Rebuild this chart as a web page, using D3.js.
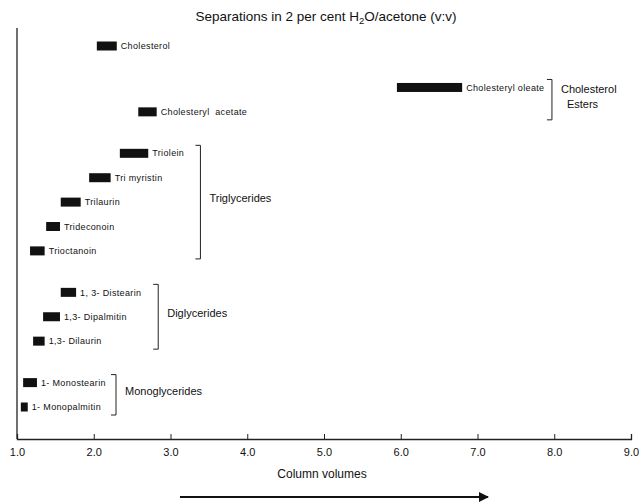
<!DOCTYPE html>
<head>
  <meta charset="utf-8">
  <script src="https://d3js.org/d3.v7.min.js"></script>
  <style>
    body { margin:0; background:#fff; }
    text { font-family: "Liberation Sans", Arial, sans-serif; fill:#111; }
  </style>
</head>
<body>
<div id="chart"></div>
<script>
  var width = 639, height = 504;

  // compounds, top to bottom
  var compounds = ["Cholesterol", "Cholesteryl oleate", "Cholesteryl  acetate",
    "Triolein", "Tri myristin", "Trilaurin", "Trideconoin", "Trioctanoin",
    "1, 3- Distearin", "1,3- Dipalmitin", "1,3- Dilaurin",
    "1- Monostearin", "1- Monopalmitin"];
  // elution start / end (column volumes)
  var startVol = [2.04, 5.95, 2.58, 2.34, 1.94, 1.57, 1.38, 1.17, 1.57, 1.34, 1.21, 1.08, 1.05];
  var endVol   = [2.30, 6.80, 2.82, 2.71, 2.22, 1.83, 1.56, 1.36, 1.77, 1.56, 1.36, 1.26, 1.14];
  var groupOf  = [0, 1, 1, 2, 2, 2, 2, 2, 3, 3, 3, 4, 4];
  var groupNames = [null, ["Cholesterol", "Esters"], ["Triglycerides"], ["Diglycerides"], ["Monoglycerides"]];
  var xTicks = [1, 2, 3, 4, 5, 6, 7, 8, 9];

  // where each bracket sits (column volumes)
  var bracketAt = [null, 7.97, 3.39, 2.84, 2.29];

  var svg = d3.select("#chart").append("svg")
    .attr("width", width).attr("height", height);

  var x = d3.scaleLinear().domain([1, 9]).range([17, 631]);
  var groupGap = 0.7;
  var slot = function(i){ return i + groupGap * groupOf[i]; };
  var y = d3.scaleLinear().domain([0, 12 + groupGap * 4]).range([46, 407]);
  var barH = 9;

  // title
  var title = svg.append("text")
    .attr("x", 326).attr("y", 21)
    .attr("text-anchor", "middle")
    .style("font-size", "13.5px");
  title.append("tspan").text("Separations  in  2  per  cent  H");
  title.append("tspan").attr("dy", 3).style("font-size", "9.5px").text("2");
  title.append("tspan").attr("dy", -3).text("O/acetone (v:v)");

  // y axis line
  svg.append("line")
    .attr("x1", x(1)).attr("x2", x(1))
    .attr("y1", 28).attr("y2", 439)
    .attr("stroke", "#222").attr("stroke-width", 1.3);

  // x axis, ticks pointing up
  var xAxis = d3.axisBottom(x)
    .tickValues(xTicks)
    .tickSize(-5)
    .tickPadding(9)
    .tickFormat(d3.format(".1f"));
  var xg = svg.append("g")
    .attr("transform", "translate(0,439)")
    .call(xAxis);
  xg.select(".domain").attr("stroke", "#222").attr("stroke-width", 1.3);
  xg.selectAll(".tick line").attr("stroke", "#222");
  xg.selectAll(".tick text")
    .style("font-size", "11px")
    .style("font-family", "\"Liberation Sans\", Arial, sans-serif")
    .attr("fill", "#111");

  svg.append("text")
    .attr("x", 322).attr("y", 478)
    .attr("text-anchor", "middle")
    .style("font-size", "12px")
    .text("Column  volumes");

  // direction arrow
  svg.append("defs").append("marker")
    .attr("id", "arrow")
    .attr("viewBox", "0 0 10 10")
    .attr("refX", 9).attr("refY", 5)
    .attr("markerWidth", 6).attr("markerHeight", 5)
    .attr("markerUnits", "strokeWidth")
    .attr("orient", "auto")
    .append("path").attr("d", "M0,0L10,5L0,10Z").attr("fill", "#111");
  svg.append("line")
    .attr("x1", 180).attr("x2", 488)
    .attr("y1", 497).attr("y2", 497)
    .attr("stroke", "#111").attr("stroke-width", 2)
    .attr("marker-end", "url(#arrow)");

  // bars
  svg.selectAll("rect.bar")
    .data(compounds)
    .enter().append("rect")
    .attr("class", "bar")
    .attr("x", function(d, i){ return x(startVol[i]); })
    .attr("width", function(d, i){ return x(endVol[i]) - x(startVol[i]); })
    .attr("y", function(d, i){ return y(slot(i)) - barH / 2; })
    .attr("height", barH)
    .attr("fill", "#111");

  // compound labels
  svg.selectAll("text.lbl")
    .data(compounds)
    .enter().append("text")
    .attr("class", "lbl")
    .attr("x", function(d, i){ return x(endVol[i]) + 4; })
    .attr("y", function(d, i){ return y(slot(i)); })
    .attr("dy", "0.35em")
    .style("font-size", "9px")
    .style("letter-spacing", "0.35px")
    .style("white-space", "pre")
    .text(function(d){ return d; });

  // group brackets
  groupNames.forEach(function(name, g){
    if (!name) return;
    var idx = d3.range(compounds.length).filter(function(i){ return groupOf[i] === g; });
    var top = y(slot(idx[0])) - 8;
    var bot = y(slot(idx[idx.length - 1])) + 8;
    var bx = x(bracketAt[g]);
    svg.append("path")
      .attr("d", "M" + (bx - 5) + "," + top + "H" + bx + "V" + bot + "H" + (bx - 5))
      .attr("fill", "none").attr("stroke", "#222").attr("stroke-width", 1);
    var mid = (top + bot) / 2;
    var t = svg.append("text")
      .attr("x", bx + 7)
      .attr("y", mid - (name.length - 1) * 7)
      .attr("dy", "0.35em")
      .style("font-size", "11px");
    name.forEach(function(line, k){
      t.append("tspan")
        .attr("x", bx + 9 + (k > 0 ? 6 : 0))
        .attr("dy", k > 0 ? 15 : 0)
        .text(line);
    });
  });
</script>
</body>
